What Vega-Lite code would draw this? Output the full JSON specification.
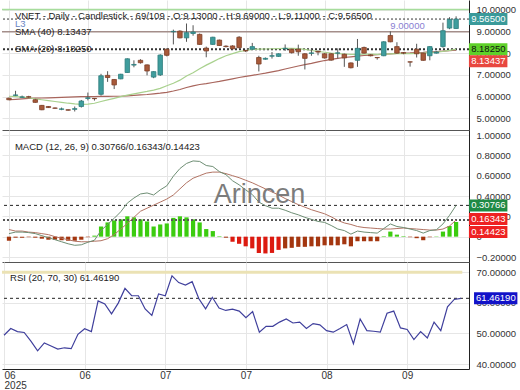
{
"$schema": "https://vega.github.io/schema/vega-lite/v6.json",
"padding": 0,
"background": "white",
"spacing": 0,
"bounds": "flush",
"config": {
 "view": {"stroke": null},
 "font": "Liberation Sans",
 "axis": {"labelFont": "Liberation Sans", "labelFontSize": 9.5, "labelColor": "#333333", "gridColor": "#e6e6e6", "gridWidth": 1, "domainColor": "#444444", "ticks": false, "title": null, "zindex": 0, "labelPadding": 7, "labelOverlap": false}
},
"datasets": {"d": [
{"i":0,"o":5.93,"h":5.96,"l":5.84,"c":5.86,"s20":6.02,"s40":5.86,"m":0.03,"sg":0.07,"hg":-0.04,"rsi":49.4},
{"i":1,"o":6.06,"h":6.27,"l":6.03,"c":6.08,"s20":6.00,"s40":5.88,"m":0.045,"sg":0.055,"hg":-0.01,"rsi":51.6},
{"i":2,"o":5.97,"h":6.05,"l":5.95,"c":5.99,"s20":5.98,"s40":5.90,"m":0.045,"sg":0.055,"hg":-0.01,"rsi":50.6},
{"i":3,"o":6.00,"h":6.04,"l":5.95,"c":5.98,"s20":5.95,"s40":5.92,"m":0.04,"sg":0.045,"hg":-0.005,"rsi":50.3},
{"i":4,"o":5.86,"h":5.90,"l":5.72,"c":5.74,"s20":5.90,"s40":5.93,"m":0.03,"sg":0.04,"hg":-0.01,"rsi":47.5},
{"i":5,"o":5.60,"h":5.62,"l":5.38,"c":5.40,"s20":5.86,"s40":5.94,"m":0.01,"sg":0.03,"hg":-0.02,"rsi":44.3},
{"i":6,"o":5.55,"h":5.57,"l":5.48,"c":5.50,"s20":5.82,"s40":5.95,"m":-0.01,"sg":0.02,"hg":-0.03,"rsi":46.9},
{"i":7,"o":5.48,"h":5.50,"l":5.45,"c":5.47,"s20":5.78,"s40":5.96,"m":-0.03,"sg":0.0,"hg":-0.03,"rsi":45.9},
{"i":8,"o":5.42,"h":5.50,"l":5.38,"c":5.44,"s20":5.74,"s40":5.97,"m":-0.05,"sg":-0.015,"hg":-0.035,"rsi":44.9},
{"i":9,"o":5.40,"h":5.41,"l":5.36,"c":5.38,"s20":5.70,"s40":5.98,"m":-0.07,"sg":-0.03,"hg":-0.04,"rsi":45.3},
{"i":10,"o":5.42,"h":5.55,"l":5.32,"c":5.45,"s20":5.67,"s40":5.99,"m":-0.085,"sg":-0.045,"hg":-0.04,"rsi":45.0},
{"i":11,"o":5.55,"h":5.85,"l":5.50,"c":5.80,"s20":5.65,"s40":6.00,"m":-0.08,"sg":-0.05,"hg":-0.03,"rsi":49.7},
{"i":12,"o":5.92,"h":6.19,"l":5.83,"c":5.95,"s20":5.66,"s40":6.00,"m":-0.055,"sg":-0.05,"hg":-0.005,"rsi":51.5},
{"i":13,"o":5.92,"h":5.93,"l":5.82,"c":5.91,"s20":5.70,"s40":6.00,"m":-0.035,"sg":-0.045,"hg":0.01,"rsi":50.6},
{"i":14,"o":6.11,"h":7.05,"l":6.05,"c":6.96,"s20":5.78,"s40":6.01,"m":0.06,"sg":-0.04,"hg":0.10,"rsi":60.6},
{"i":15,"o":6.98,"h":7.17,"l":6.68,"c":6.88,"s20":5.85,"s40":6.01,"m":0.12,"sg":-0.02,"hg":0.14,"rsi":59.6},
{"i":16,"o":6.79,"h":6.80,"l":6.35,"c":6.54,"s20":5.92,"s40":6.02,"m":0.18,"sg":0.02,"hg":0.16,"rsi":56.4},
{"i":17,"o":6.82,"h":7.05,"l":6.80,"c":7.03,"s20":6.00,"s40":6.02,"m":0.245,"sg":0.075,"hg":0.17,"rsi":59.9},
{"i":18,"o":7.11,"h":7.76,"l":7.10,"c":7.74,"s20":6.07,"s40":6.04,"m":0.33,"sg":0.13,"hg":0.20,"rsi":64.7},
{"i":19,"o":7.45,"h":7.67,"l":7.35,"c":7.48,"s20":6.13,"s40":6.06,"m":0.38,"sg":0.19,"hg":0.19,"rsi":62.3},
{"i":20,"o":7.67,"h":7.72,"l":7.52,"c":7.56,"s20":6.19,"s40":6.08,"m":0.42,"sg":0.25,"hg":0.17,"rsi":62.3},
{"i":21,"o":7.46,"h":7.48,"l":6.98,"c":7.18,"s20":6.24,"s40":6.10,"m":0.43,"sg":0.28,"hg":0.15,"rsi":58.0},
{"i":22,"o":6.90,"h":7.17,"l":6.85,"c":7.15,"s20":6.30,"s40":6.13,"m":0.41,"sg":0.31,"hg":0.10,"rsi":55.9},
{"i":23,"o":7.00,"h":7.95,"l":6.95,"c":7.91,"s20":6.38,"s40":6.16,"m":0.46,"sg":0.34,"hg":0.12,"rsi":62.9},
{"i":24,"o":8.18,"h":8.22,"l":7.85,"c":7.90,"s20":6.50,"s40":6.20,"m":0.50,"sg":0.37,"hg":0.13,"rsi":62.3},
{"i":25,"o":8.98,"h":9.08,"l":8.40,"c":9.00,"s20":6.62,"s40":6.26,"m":0.595,"sg":0.41,"hg":0.185,"rsi":68.8},
{"i":26,"o":9.01,"h":9.05,"l":8.68,"c":8.70,"s20":6.76,"s40":6.33,"m":0.67,"sg":0.47,"hg":0.20,"rsi":66.6},
{"i":27,"o":8.70,"h":9.36,"l":8.52,"c":8.94,"s20":6.95,"s40":6.42,"m":0.72,"sg":0.53,"hg":0.19,"rsi":65.8},
{"i":28,"o":8.90,"h":9.28,"l":8.80,"c":8.97,"s20":7.10,"s40":6.50,"m":0.745,"sg":0.575,"hg":0.17,"rsi":66.9},
{"i":29,"o":8.86,"h":8.90,"l":8.38,"c":8.40,"s20":7.28,"s40":6.56,"m":0.74,"sg":0.60,"hg":0.14,"rsi":61.3},
{"i":30,"o":8.23,"h":8.30,"l":7.81,"c":8.10,"s20":7.45,"s40":6.60,"m":0.70,"sg":0.625,"hg":0.075,"rsi":58.0},
{"i":31,"o":8.40,"h":8.75,"l":8.38,"c":8.73,"s20":7.60,"s40":6.65,"m":0.69,"sg":0.635,"hg":0.055,"rsi":61.8},
{"i":32,"o":8.60,"h":8.62,"l":8.33,"c":8.35,"s20":7.75,"s40":6.70,"m":0.64,"sg":0.635,"hg":0.005,"rsi":58.3},
{"i":33,"o":8.32,"h":8.36,"l":8.26,"c":8.30,"s20":7.88,"s40":6.76,"m":0.61,"sg":0.62,"hg":-0.01,"rsi":57.5},
{"i":34,"o":8.33,"h":8.36,"l":8.16,"c":8.20,"s20":7.98,"s40":6.82,"m":0.55,"sg":0.60,"hg":-0.05,"rsi":57.9,"t":"f"},
{"i":35,"o":8.73,"h":8.78,"l":8.22,"c":8.25,"s20":8.07,"s40":6.88,"m":0.51,"sg":0.58,"hg":-0.07,"rsi":57.3,"t":"f"},
{"i":36,"o":8.12,"h":8.15,"l":8.05,"c":8.10,"s20":8.12,"s40":6.93,"m":0.46,"sg":0.555,"hg":-0.095,"rsi":55.1,"t":"f"},
{"i":37,"o":8.18,"h":8.47,"l":8.15,"c":8.30,"s20":8.17,"s40":6.98,"m":0.415,"sg":0.53,"hg":-0.115,"rsi":57.1,"t":"f"},
{"i":38,"o":7.80,"h":7.88,"l":7.16,"c":7.50,"s20":8.18,"s40":7.03,"m":0.34,"sg":0.50,"hg":-0.16,"rsi":50.4,"t":"f"},
{"i":39,"o":7.72,"h":7.80,"l":7.70,"c":7.76,"s20":8.19,"s40":7.08,"m":0.305,"sg":0.47,"hg":-0.165,"rsi":52.3,"t":"f"},
{"i":40,"o":7.86,"h":8.05,"l":7.75,"c":7.88,"s20":8.20,"s40":7.14,"m":0.28,"sg":0.44,"hg":-0.16,"rsi":52.3,"t":"f"},
{"i":41,"o":7.85,"h":7.99,"l":7.83,"c":7.97,"s20":8.21,"s40":7.20,"m":0.28,"sg":0.41,"hg":-0.13,"rsi":53.7,"t":"f"},
{"i":42,"o":8.20,"h":8.40,"l":8.10,"c":8.22,"s20":8.22,"s40":7.27,"m":0.26,"sg":0.375,"hg":-0.115,"rsi":54.7},
{"i":43,"o":8.18,"h":8.20,"l":7.98,"c":8.02,"s20":8.22,"s40":7.34,"m":0.235,"sg":0.345,"hg":-0.11,"rsi":53.4},
{"i":44,"o":8.18,"h":8.39,"l":7.88,"c":8.06,"s20":8.21,"s40":7.41,"m":0.215,"sg":0.315,"hg":-0.10,"rsi":53.7},
{"i":45,"o":7.97,"h":8.00,"l":7.25,"c":7.76,"s20":8.17,"s40":7.47,"m":0.19,"sg":0.29,"hg":-0.10,"rsi":51.6},
{"i":46,"o":7.99,"h":8.22,"l":7.88,"c":8.01,"s20":8.12,"s40":7.53,"m":0.17,"sg":0.265,"hg":-0.095,"rsi":53.2},
{"i":47,"o":8.08,"h":8.12,"l":7.90,"c":8.05,"s20":8.08,"s40":7.60,"m":0.15,"sg":0.245,"hg":-0.095,"rsi":52.8},
{"i":48,"o":7.97,"h":8.00,"l":7.75,"c":7.78,"s20":8.04,"s40":7.66,"m":0.14,"sg":0.225,"hg":-0.085,"rsi":50.9},
{"i":49,"o":7.97,"h":8.00,"l":7.65,"c":7.68,"s20":8.00,"s40":7.71,"m":0.11,"sg":0.195,"hg":-0.085,"rsi":50.4},
{"i":50,"o":8.00,"h":8.22,"l":7.76,"c":8.01,"s20":7.98,"s40":7.76,"m":0.075,"sg":0.16,"hg":-0.085,"rsi":51.6},
{"i":51,"o":7.95,"h":7.98,"l":7.37,"c":7.78,"s20":7.96,"s40":7.80,"m":0.06,"sg":0.135,"hg":-0.075,"rsi":52.9},
{"i":52,"o":7.55,"h":7.57,"l":7.30,"c":7.33,"s20":7.94,"s40":7.83,"m":0.025,"sg":0.12,"hg":-0.095,"rsi":46.6},
{"i":53,"o":7.67,"h":8.65,"l":7.37,"c":8.22,"s20":7.94,"s40":7.86,"m":0.055,"sg":0.10,"hg":-0.045,"rsi":54.7},
{"i":54,"o":8.26,"h":8.30,"l":7.98,"c":8.00,"s20":7.95,"s40":7.89,"m":0.045,"sg":0.09,"hg":-0.045,"rsi":50.9},
{"i":55,"o":7.92,"h":7.95,"l":7.85,"c":7.88,"s20":7.95,"s40":7.91,"m":0.04,"sg":0.085,"hg":-0.045,"rsi":50.7},
{"i":56,"o":7.80,"h":7.81,"l":7.70,"c":7.79,"s20":7.94,"s40":7.93,"m":0.035,"sg":0.08,"hg":-0.045,"rsi":50.4},
{"i":57,"o":7.88,"h":8.55,"l":7.86,"c":8.52,"s20":7.95,"s40":7.95,"m":0.08,"sg":0.075,"hg":0.005,"rsi":56.6},
{"i":58,"o":8.81,"h":9.00,"l":8.50,"c":8.52,"s20":7.97,"s40":7.97,"m":0.125,"sg":0.075,"hg":0.05,"rsi":57.3},
{"i":59,"o":8.30,"h":8.50,"l":7.97,"c":8.00,"s20":7.98,"s40":7.99,"m":0.10,"sg":0.08,"hg":0.02,"rsi":51.8},
{"i":60,"o":8.02,"h":8.05,"l":7.95,"c":8.00,"s20":7.99,"s40":8.00,"m":0.09,"sg":0.085,"hg":0.005,"rsi":51.3},
{"i":61,"o":7.60,"h":7.61,"l":7.38,"c":7.59,"s20":7.98,"s40":8.01,"m":0.075,"sg":0.08,"hg":-0.005,"rsi":48.0},
{"i":62,"o":8.18,"h":8.43,"l":7.80,"c":7.97,"s20":7.99,"s40":8.03,"m":0.06,"sg":0.075,"hg":-0.015,"rsi":50.6},
{"i":63,"o":8.00,"h":8.02,"l":7.65,"c":7.67,"s20":8.00,"s40":8.04,"m":0.035,"sg":0.07,"hg":-0.035,"rsi":48.5},
{"i":64,"o":7.88,"h":8.32,"l":7.67,"c":8.30,"s20":8.02,"s40":8.06,"m":0.06,"sg":0.065,"hg":-0.005,"rsi":53.7},
{"i":65,"o":8.00,"h":8.08,"l":7.98,"c":8.05,"s20":8.04,"s40":8.07,"m":0.068,"sg":0.065,"hg":0.003,"rsi":50.9},
{"i":66,"o":8.30,"h":9.40,"l":8.25,"c":9.03,"s20":8.08,"s40":8.09,"m":0.125,"sg":0.075,"hg":0.05,"rsi":58.7},
{"i":67,"o":9.15,"h":9.65,"l":9.10,"c":9.55,"s20":8.13,"s40":8.11,"m":0.21,"sg":0.105,"hg":0.105,"rsi":61.1},
{"i":68,"o":9.13,"h":9.69,"l":9.11,"c":9.565,"s20":8.1825,"s40":8.13437,"m":0.30766,"sg":0.16343,"hg":0.14423,"rsi":61.4619}
]},
"vconcat": [
{
 "width": 467, "height": 130,
 "data": {"name": "d"},
 "layer": [
  {"data": {"values": [{}]}, "mark": {"type": "rule", "color": "#a6dc9c", "strokeWidth": 1.5}, "encoding": {"y": {"datum": 10}}},
  {"data": {"values": [{}]}, "mark": {"type": "rule", "color": "#a48e8a", "strokeWidth": 1.5}, "encoding": {"y": {"datum": 8.98}}},
  {"data": {"values": [{}]}, "mark": {"type": "rule", "color": "#333333", "strokeWidth": 1, "strokeDash": [2, 2]}, "encoding": {"y": {"datum": 9.565}}},
  {"data": {"values": [{}]}, "mark": {"type": "rule", "color": "#333333", "strokeWidth": 2, "strokeDash": [2, 2]}, "encoding": {"y": {"datum": 8.1825}}},
  {"mark": {"type": "line", "color": "#a8655c", "strokeWidth": 1.2},
   "encoding": {
    "x": {"field": "i", "type": "quantitative", "scale": {"domain": [-0.3, 69.2], "nice": false, "zero": false}, "axis": {"values": [0, 12, 24, 36, 48, 60], "tickCount": 20, "labels": false, "grid": true, "domain": true, "domainColor": "#555555", "orient": "bottom"}},
    "y": {"field": "s40", "type": "quantitative", "scale": {"domain": [4.7, 10.21], "nice": false, "zero": false}, "axis": {"orient": "right", "values": [5, 6, 7, 8, 9, 10], "tickCount": 20, "format": ".5f", "labelOverlap": false, "grid": true, "domain": true, "domainColor": "#222222"}}
   }},
  {"mark": {"type": "line", "color": "#a9d18e", "strokeWidth": 1.2}, "encoding": {"x": {"field": "i", "type": "quantitative"}, "y": {"field": "s20", "type": "quantitative"}}},
  {"mark": {"type": "rule", "color": "#555555", "strokeWidth": 1}, "encoding": {"x": {"field": "i", "type": "quantitative"}, "y": {"field": "l", "type": "quantitative"}, "y2": {"field": "h"}}},
  {"mark": {"type": "bar", "size": 4.5, "strokeWidth": 0.8},
   "encoding": {"x": {"field": "i", "type": "quantitative"}, "y": {"field": "o", "type": "quantitative"}, "y2": {"field": "c"},
    "color": {"condition": {"test": "datum.c >= datum.o", "value": "#3f9d9d"}, "value": "#a85a3a"},
    "stroke": {"condition": {"test": "datum.c >= datum.o", "value": "#2f7d7d"}, "value": "#7f4028"}}},
  {"data": {"values": [{}]}, "mark": {"type": "text", "align": "left", "baseline": "middle", "fontSize": 9.5, "color": "#222222"}, "encoding": {"x": {"datum": 0.9}, "y": {"datum": 9.72}, "text": {"value": "VNET - Daily - Candlestick - 69/109 - O:9.13000 - H:9.69000 - L:9.11000 - C:9.56500"}}},
  {"data": {"values": [{}]}, "mark": {"type": "text", "align": "left", "baseline": "middle", "fontSize": 9.5, "color": "#6a86c4"}, "encoding": {"x": {"datum": 0.9}, "y": {"datum": 9.36}, "text": {"value": "L3"}}},
  {"data": {"values": [{}]}, "mark": {"type": "text", "align": "left", "baseline": "middle", "fontSize": 9.5, "color": "#222222"}, "encoding": {"x": {"datum": 0.9}, "y": {"datum": 8.98}, "text": {"value": "SMA (40)   8.13437"}}},
  {"data": {"values": [{}]}, "mark": {"type": "text", "align": "left", "baseline": "middle", "fontSize": 9.5, "color": "#222222"}, "encoding": {"x": {"datum": 0.9}, "y": {"datum": 8.18}, "text": {"value": "SMA (20)   8.18250"}}},
  {"data": {"values": [{}]}, "mark": {"type": "text", "align": "left", "baseline": "middle", "fontSize": 9.5, "color": "#8a80d2"}, "encoding": {"x": {"datum": 58.0}, "y": {"datum": 9.24}, "text": {"value": "9.00000"}}},
  {"data": {"values": [{"v": 9.565, "lab": "9.56500", "s": "close"}, {"v": 8.1825, "lab": "8.18250", "s": "sma20"}]},
   "layer": [
    {"mark": {"type": "bar", "size": 12}, "encoding": {"x": {"datum": 69.95}, "x2": {"datum": 75.8}, "y": {"field": "v", "type": "quantitative"}, "color": {"condition": {"test": "datum.s == 'sma20'", "value": "#5fd12a"}, "value": "#3a9a9a"}}},
    {"mark": {"type": "text", "align": "center", "baseline": "middle", "fontSize": 9.5}, "encoding": {"x": {"datum": 72.9}, "y": {"field": "v", "type": "quantitative"}, "text": {"field": "lab"}, "color": {"condition": {"test": "datum.s == 'sma20'", "value": "#111111"}, "value": "#ffffff"}}}
   ]},
  {"data": {"values": [{"v": 8.13437, "lab": "8.13437"}]},
   "layer": [
    {"mark": {"type": "bar", "size": 12, "yOffset": 11, "color": "#e8473f"}, "encoding": {"x": {"datum": 69.95}, "x2": {"datum": 75.8}, "y": {"field": "v", "type": "quantitative"}}},
    {"mark": {"type": "text", "align": "center", "baseline": "middle", "fontSize": 9.5, "yOffset": 11, "color": "#ffffff"}, "encoding": {"x": {"datum": 72.9}, "y": {"field": "v", "type": "quantitative"}, "text": {"field": "lab"}}}
   ]}
 ]
},
{
 "width": 467, "height": 132,
 "data": {"name": "d"},
 "layer": [
  {"mark": {"type": "bar", "size": 4.2},
   "encoding": {
    "x": {"field": "i", "type": "quantitative", "scale": {"domain": [-0.3, 69.2], "nice": false, "zero": false}, "axis": {"values": [0, 12, 24, 36, 48, 60], "tickCount": 20, "labels": false, "grid": true, "domain": true, "domainColor": "#555555", "orient": "bottom"}},
    "y": {"field": "hg", "type": "quantitative", "scale": {"domain": [-0.2, 1.0], "nice": false, "zero": false}, "axis": {"orient": "right", "values": [-0.2, 0, 0.2, 0.4, 0.6, 0.8, 1.0], "tickCount": 20, "labelExpr": "datum.value == 0 ? '0' : format(datum.value, '.5f')", "labelFlush": true, "labelOverlap": false, "grid": true, "domain": true, "domainColor": "#222222"}},
    "y2": {"datum": 0},
    "color": {"condition": [{"test": "datum.hg >= 0", "value": "#3ccc10"}, {"test": "datum.t == 'f'", "value": "#dc1a10"}], "value": "#a4360f"}
   }},
  {"data": {"values": [{}]}, "mark": {"type": "rule", "color": "#222222", "strokeWidth": 1, "strokeDash": [3, 3]}, "encoding": {"y": {"datum": 0.30766}}},
  {"data": {"values": [{}]}, "mark": {"type": "rule", "color": "#555555", "strokeWidth": 2, "strokeDash": [2, 2]}, "encoding": {"y": {"datum": 0.16343}}},
  {"mark": {"type": "line", "color": "#b27464", "strokeWidth": 1}, "encoding": {"x": {"field": "i", "type": "quantitative"}, "y": {"field": "sg", "type": "quantitative"}}},
  {"mark": {"type": "line", "color": "#6e8e74", "strokeWidth": 1}, "encoding": {"x": {"field": "i", "type": "quantitative"}, "y": {"field": "m", "type": "quantitative"}}},
  {"data": {"values": [{}]}, "mark": {"type": "text", "align": "left", "baseline": "middle", "fontSize": 9.5, "color": "#222222"}, "encoding": {"x": {"datum": 0.9}, "y": {"datum": 0.882}, "text": {"value": "MACD (12, 26, 9)   0.30766/0.16343/0.14423"}}},
  {"data": {"values": [{}]}, "mark": {"type": "text", "align": "center", "baseline": "middle", "fontSize": 27, "color": "#7c7c7c"}, "encoding": {"x": {"datum": 38.1}, "y": {"datum": 0.41}, "text": {"value": "Arincen"}}},
  {"data": {"values": [{"v": 0.30766, "lab": "0.30766"}]},
   "layer": [
    {"mark": {"type": "bar", "size": 12, "color": "#1f8a45"}, "encoding": {"x": {"datum": 69.95}, "x2": {"datum": 75.8}, "y": {"field": "v", "type": "quantitative"}}},
    {"mark": {"type": "text", "align": "center", "baseline": "middle", "fontSize": 9.5, "color": "#ffffff"}, "encoding": {"x": {"datum": 72.9}, "y": {"field": "v", "type": "quantitative"}, "text": {"field": "lab"}}}
   ]},
  {"data": {"values": [{"v": 0.16343, "lab": "0.16343"}]},
   "layer": [
    {"mark": {"type": "bar", "size": 12, "yOffset": -1, "color": "#ee2222"}, "encoding": {"x": {"datum": 69.95}, "x2": {"datum": 75.8}, "y": {"field": "v", "type": "quantitative"}}},
    {"mark": {"type": "text", "align": "center", "baseline": "middle", "fontSize": 9.5, "yOffset": -1, "color": "#ffffff"}, "encoding": {"x": {"datum": 72.9}, "y": {"field": "v", "type": "quantitative"}, "text": {"field": "lab"}}}
   ]},
  {"data": {"values": [{"v": 0.14423, "lab": "0.14423"}]},
   "layer": [
    {"mark": {"type": "bar", "size": 12, "yOffset": 10, "color": "#ee2222"}, "encoding": {"x": {"datum": 69.95}, "x2": {"datum": 75.8}, "y": {"field": "v", "type": "quantitative"}}},
    {"mark": {"type": "text", "align": "center", "baseline": "middle", "fontSize": 9.5, "yOffset": 10, "color": "#ffffff"}, "encoding": {"x": {"datum": 72.9}, "y": {"field": "v", "type": "quantitative"}, "text": {"field": "lab"}}}
   ]}
 ]
},
{
 "width": 467, "height": 107,
 "data": {"name": "d"},
 "layer": [
  {"data": {"values": [{}]}, "mark": {"type": "rule", "color": "#ebe2b4", "strokeWidth": 3}, "encoding": {"x": {"datum": -0.3}, "x2": {"datum": 68.2}, "y": {"datum": 70}}},
  {"data": {"values": [{}]}, "mark": {"type": "rule", "color": "#222222", "strokeWidth": 1, "strokeDash": [3, 3]}, "encoding": {"y": {"datum": 61.4619}}},
  {"mark": {"type": "line", "color": "#3f3f9c", "strokeWidth": 1.2},
   "encoding": {
    "x": {"field": "i", "type": "quantitative", "scale": {"domain": [-0.3, 69.2], "nice": false, "zero": false}, "axis": {"values": [0, 12, 24, 36, 48, 60], "tickCount": 20, "labels": true, "labelFontSize": 10, "labelPadding": 1, "labelLineHeight": 10, "labelFlush": 4, "labelOverlap": false, "labelExpr": "datum.value == 0 ? ['06', '2025'] : datum.value == 12 ? '06' : datum.value == 24 ? '07' : datum.value == 36 ? '07' : datum.value == 48 ? '08' : '09'", "grid": true, "domain": true, "domainColor": "#222222", "orient": "bottom"}},
    "y": {"field": "rsi", "type": "quantitative", "scale": {"domain": [40, 71.7], "nice": false, "zero": false}, "axis": {"orient": "right", "values": [40, 50, 60, 70], "tickCount": 20, "format": ".5f", "labelFlush": true, "labelOverlap": false, "grid": true, "domain": true, "domainColor": "#222222"}}
   }},
  {"data": {"values": [{}]}, "mark": {"type": "text", "align": "left", "baseline": "middle", "fontSize": 9.5, "color": "#222222"}, "encoding": {"x": {"datum": 0.9}, "y": {"datum": 68.1}, "text": {"value": "RSI (20, 70, 30)   61.46190"}}},
  {"data": {"values": [{"v": 61.4619, "lab": "61.46190"}]},
   "layer": [
    {"mark": {"type": "bar", "size": 12, "color": "#1212c8"}, "encoding": {"x": {"datum": 69.95}, "x2": {"datum": 76.4}, "y": {"field": "v", "type": "quantitative"}}},
    {"mark": {"type": "text", "align": "center", "baseline": "middle", "fontSize": 9.5, "color": "#ffffff"}, "encoding": {"x": {"datum": 73.2}, "y": {"field": "v", "type": "quantitative"}, "text": {"field": "lab"}}}
   ]}
 ]
}
]
}
